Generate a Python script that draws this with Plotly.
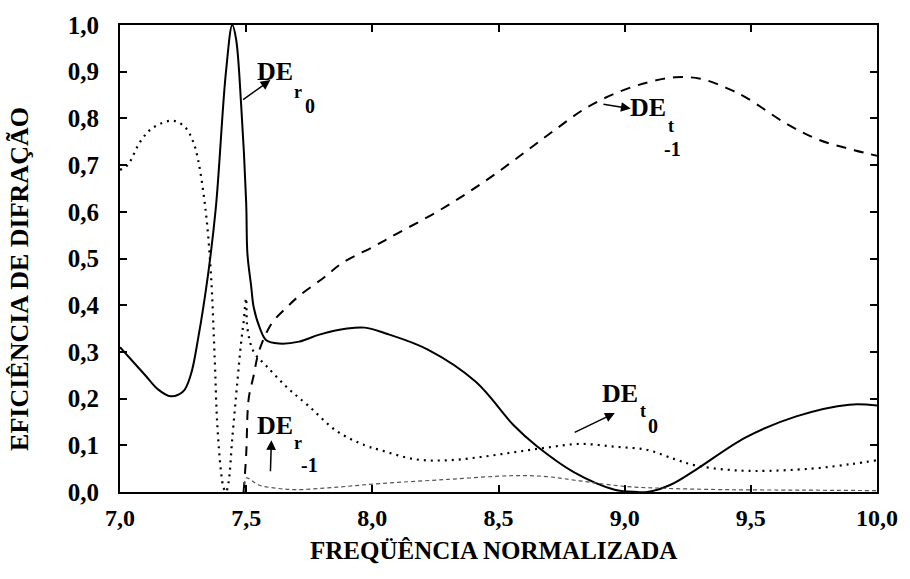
import plotly.graph_objects as go

# ---------------- data ----------------
x_r0 = [7.00, 7.05, 7.10, 7.15, 7.20, 7.25, 7.28, 7.31, 7.35, 7.38, 7.42, 7.445, 7.46, 7.48, 7.50,
        7.505, 7.52, 7.53, 7.555, 7.58, 7.63, 7.71, 7.79, 7.90, 7.97, 8.05, 8.22, 8.41, 8.56, 8.65,
        8.80, 8.96, 9.05, 9.09, 9.18, 9.28, 9.48, 9.68, 9.89, 10.00]
y_r0 = [0.31, 0.28, 0.25, 0.22, 0.205, 0.215, 0.25, 0.33, 0.47, 0.61, 0.90, 1.00, 0.97, 0.83, 0.62,
        0.51, 0.44, 0.395, 0.35, 0.325, 0.318, 0.322, 0.337, 0.35, 0.352, 0.34, 0.305, 0.236, 0.143, 0.099,
        0.042, 0.005, 0.0, 0.0, 0.015, 0.047, 0.117, 0.162, 0.187, 0.185]

x_t1 = [7.49, 7.50, 7.51, 7.53, 7.55, 7.60, 7.66, 7.71, 7.81, 7.88, 8.01, 8.10, 8.25, 8.37, 8.49,
        8.61, 8.72, 8.84, 8.96, 9.09, 9.20, 9.30, 9.40, 9.48, 9.64, 9.77, 9.91, 10.00]
y_t1 = [0.0, 0.08, 0.20, 0.25, 0.30, 0.36, 0.395, 0.42, 0.46, 0.49, 0.527, 0.554, 0.598, 0.638, 0.682,
        0.73, 0.774, 0.82, 0.853, 0.877, 0.888, 0.885, 0.866, 0.845, 0.789, 0.754, 0.732, 0.72]

x_t0 = [7.00, 7.03, 7.08, 7.13, 7.21, 7.26, 7.29, 7.31, 7.34, 7.36, 7.375, 7.385, 7.40, 7.41, 7.42,
        7.43, 7.445, 7.465, 7.48, 7.49, 7.50, 7.505, 7.53, 7.58, 7.66, 7.75, 7.86, 7.97, 8.03, 8.17,
        8.30, 8.43, 8.56, 8.69, 8.82, 8.96, 9.09, 9.20, 9.28, 9.40, 9.52, 9.74, 9.90, 10.00]
y_t0 = [0.69, 0.70, 0.75, 0.78, 0.795, 0.78, 0.75, 0.71, 0.60, 0.47, 0.29, 0.15, 0.045, 0.01, 0.0,
        0.02, 0.115, 0.235, 0.32, 0.365, 0.415, 0.35, 0.30, 0.27, 0.225, 0.183, 0.13, 0.10, 0.09, 0.07,
        0.068, 0.075, 0.085, 0.095, 0.103, 0.097, 0.09, 0.07, 0.057, 0.048, 0.045, 0.05, 0.06, 0.068]

x_rm1 = [7.495, 7.50, 7.55, 7.62, 7.70, 7.85, 8.03, 8.30, 8.56, 8.69, 8.82, 9.00, 9.15, 9.40, 9.70, 10.00]
y_rm1 = [0.0, 0.03, 0.015, 0.008, 0.005, 0.01, 0.018, 0.027, 0.035, 0.033, 0.024, 0.012, 0.008, 0.005, 0.004, 0.003]

x_ticks = [7.0, 7.5, 8.0, 8.5, 9.0, 9.5, 10.0]
x_ticktext = ["7,0", "7,5", "8,0", "8,5", "9,0", "9,5", "10,0"]
y_ticks = [0.0, 0.1, 0.2, 0.3, 0.4, 0.5, 0.6, 0.7, 0.8, 0.9, 1.0]
y_ticktext = ["0,0", "0,1", "0,2", "0,3", "0,4", "0,5", "0,6", "0,7", "0,8", "0,9", "1,0"]

x_title = "FREQÜÊNCIA NORMALIZADA"
y_title = "EFICIÊNCIA DE DIFRAÇÃO"

FONT = "Liberation Serif"

fig = go.Figure()
fig.add_trace(go.Scatter(x=x_r0, y=y_r0, mode="lines", line=dict(color="black", width=2),
                         name="DE r0", line_shape="spline"))
fig.add_trace(go.Scatter(x=x_t1, y=y_t1, mode="lines", line=dict(color="black", width=2, dash="10px,8px"),
                         name="DE t-1", line_shape="spline"))
fig.add_trace(go.Scatter(x=x_t0, y=y_t0, mode="lines", line=dict(color="black", width=2.2, dash="2px,5px"),
                         name="DE t0", line_shape="spline"))
fig.add_trace(go.Scatter(x=x_rm1, y=y_rm1, mode="lines", line=dict(color="#555555", width=1.2, dash="4px,3px"),
                         name="DE r-1", line_shape="spline"))

ann = []
def label(x, y, text, size):
    ann.append(dict(x=x, y=y, xref="x", yref="y", text="<b>%s</b>" % text, showarrow=False,
                    font=dict(family=FONT, size=size, color="black"), xanchor="center", yanchor="middle"))

def arrow(x0, y0, x1, y1):
    ann.append(dict(x=x1, y=y1, ax=x0, ay=y0, xref="x", yref="y", axref="x", ayref="y", text="",
                    showarrow=True, arrowhead=2, arrowsize=1.3, arrowwidth=1.5, arrowcolor="black"))

# DE r0
label(7.616, 0.900, "DE", 26); label(7.706, 0.857, "r", 18); label(7.753, 0.827, "0", 20)
arrow(7.482, 0.838, 7.596, 0.882)
# DE t-1
label(9.094, 0.823, "DE", 26); label(9.184, 0.784, "t", 18); label(9.188, 0.735, "-1", 20)
arrow(8.910, 0.831, 9.024, 0.821)
# DE t0
label(8.980, 0.2115, "DE", 26); label(9.071, 0.173, "t", 18); label(9.114, 0.141, "0", 20)
arrow(8.796, 0.126, 8.961, 0.169)
# DE r-1
label(7.616, 0.143, "DE", 26); label(7.706, 0.105, "r", 18); label(7.749, 0.058, "-1", 20)
arrow(7.596, 0.041, 7.600, 0.111)

# axis titles
ann.append(dict(x=0.493, y=-0.126, xref="paper", yref="paper", text="<b>%s</b>" % x_title, showarrow=False,
                font=dict(family=FONT, size=25, color="black"), xanchor="center", yanchor="middle"))
ann.append(dict(x=-0.133, y=0.457, xref="paper", yref="paper", text="<b>%s</b>" % y_title, showarrow=False,
                textangle=-90, font=dict(family=FONT, size=26, color="black"), xanchor="center", yanchor="middle"))

axis_common = dict(showgrid=False, zeroline=False, showline=True, linecolor="black", linewidth=2,
                   mirror="ticks", ticks="inside", ticklen=7, tickwidth=1.5, tickcolor="black")

fig.update_layout(
    width=910, height=579,
    margin=dict(l=120, r=25, t=24, b=87),
    paper_bgcolor="white", plot_bgcolor="white",
    showlegend=False,
    annotations=ann,
    xaxis=dict(range=[7.0, 10.0], tickvals=x_ticks, ticktext=x_ticktext, ticklabelstandoff=3,
               tickfont=dict(family=FONT, size=24, color="black", weight="bold"), **axis_common),
    yaxis=dict(range=[0.0, 1.0], tickvals=y_ticks, ticktext=y_ticktext, ticklabelstandoff=14,
               tickfont=dict(family=FONT, size=25, color="black", weight="bold"), **axis_common),
)

fig.write_html("out.html")
